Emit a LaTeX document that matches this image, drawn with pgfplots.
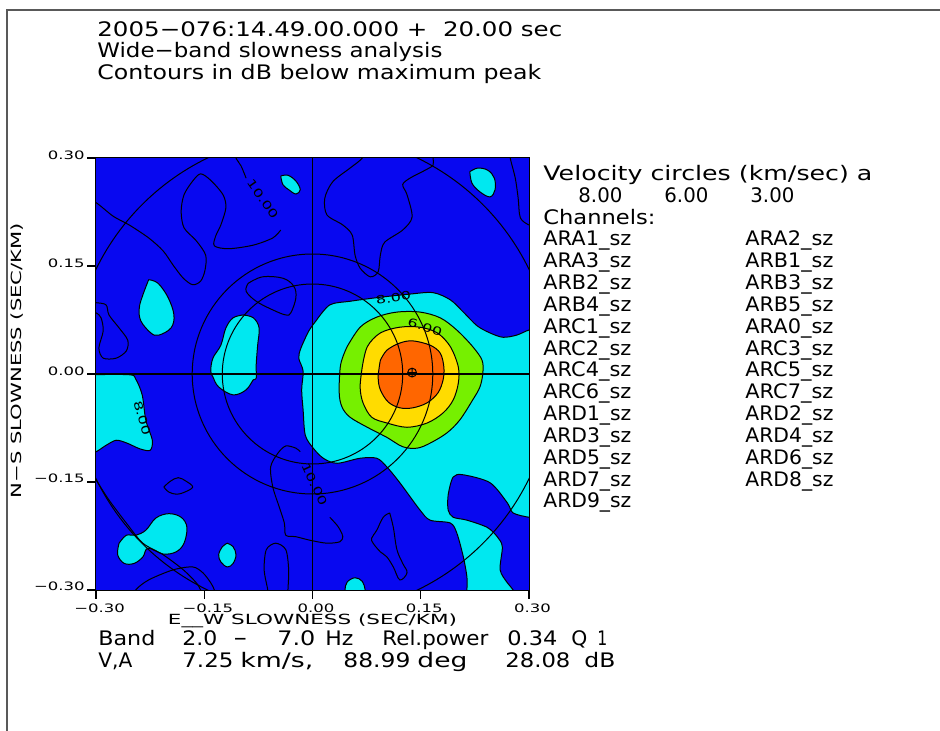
\documentclass[border=0pt]{standalone}
\usepackage{fontspec}
\setmainfont{DejaVu Sans}
\newfontfamily\tickfont[FakeStretch=1.42]{DejaVu Sans}
\usepackage{graphicx}
\usepackage{pgfplots}
\pgfplotsset{compat=1.18}
\definecolor{dblue}{RGB}{8,8,240}
\definecolor{cyanc}{RGB}{0,232,240}
\definecolor{greenc}{RGB}{118,240,0}
\definecolor{yellowc}{RGB}{255,220,0}
\definecolor{orangec}{RGB}{255,102,0}
\newcommand\T[5]{\node[anchor=base west,inner sep=0pt] at (#1,#2) {\fontsize{#3}{#3}\selectfont\resizebox{#4pt}{\height}{#5}};}
\newcommand\CL[4]{\node[rotate=#3,inner sep=0pt] at (axis cs:#1,#2) {\tickfont\fontsize{5.6}{6}\selectfont #4};}
\begin{document}
\begin{tikzpicture}
\useasboundingbox (0,0) rectangle (470pt,365.5pt);
\begin{axis}[
  at={(48pt,70.5pt)}, anchor=south west,
  scale only axis, width=216.5pt, height=216pt,
  xmin=-0.3, xmax=0.3, ymin=-0.3, ymax=0.3,
  axis line style={line width=0.7pt},
  tick pos=left, tick align=outside,
  major tick length=4.5pt,
  every tick/.style={black, line width=0.7pt},
  xtick={-0.3,-0.15,0,0.15,0.3},
  ytick={-0.3,-0.15,0,0.15,0.3},
  xticklabels={−0.30,−0.15,0.00,0.15,0.30},
  yticklabels={−0.30,−0.15,0.00,0.15,0.30},
  ticklabel style={font=\tickfont\fontsize{5.8}{6}\selectfont, inner sep=0pt},
  xticklabel style={anchor=north, yshift=-2pt, xshift=1.75pt},
  yticklabel style={anchor=base east, xshift=-1pt, yshift=-0.5pt},
  xlabel={\resizebox{144.5pt}{\height}{E\_\_W SLOWNESS (SEC/KM)}},
  ylabel={\resizebox{137.5pt}{\height}{N−S SLOWNESS (SEC/KM)}},
  label style={font=\fontsize{7}{7}\selectfont, inner sep=0pt},
  xlabel style={at={(axis description cs:0.5,-0.081)}, anchor=base},
  ylabel style={at={(axis description cs:-0.171,0.531)}, anchor=base},
  clip=true,
]
% background: below -8 dB
\addplot[fill=dblue, draw=none] coordinates {(-0.3,-0.3) (0.3,-0.3) (0.3,0.3) (-0.3,0.3) (-0.3,-0.3)};
% -8 dB regions
\addplot[fill=cyanc, draw=black, line width=0.5pt, smooth, tension=0.5] coordinates {
(0.005,0.074) (0.024,0.096) (0.052,0.101) (0.089,0.106) (0.135,0.111) (0.167,0.113) (0.191,0.103) (0.209,0.086) (0.228,0.067) (0.246,0.057) (0.264,0.051) (0.283,0.054) (0.300,0.061) (0.312,0.060) (0.312,-0.199) (0.300,-0.199) (0.278,-0.193) (0.270,-0.179) (0.246,-0.151) (0.209,-0.140) (0.195,-0.143) (0.188,-0.168) (0.188,-0.189) (0.195,-0.199) (0.214,-0.203) (0.242,-0.213) (0.256,-0.226) (0.263,-0.240) (0.260,-0.272) (0.270,-0.290) (0.278,-0.300) (0.280,-0.312) (0.214,-0.312) (0.214,-0.300) (0.214,-0.282) (0.209,-0.254) (0.200,-0.221) (0.191,-0.207) (0.163,-0.203) (0.149,-0.189) (0.121,-0.151) (0.103,-0.129) (0.089,-0.117) (0.066,-0.117) (0.034,-0.124) (0.015,-0.117) (0.001,-0.103) (-0.010,-0.085) (-0.013,-0.050) (-0.015,-0.022) (-0.013,0.004) (-0.019,0.022) (-0.016,0.036) (-0.005,0.060) (0.005,0.074)};
\addplot[fill=cyanc, draw=black, line width=0.5pt, smooth, tension=0.6] coordinates {
(0.218,0.281) (0.229,0.286) (0.243,0.283) (0.252,0.272) (0.253,0.256) (0.246,0.246) (0.232,0.253) (0.221,0.265) (0.218,0.281)};
\addplot[fill=cyanc, draw=black, line width=0.5pt, smooth, tension=0.6] coordinates {
(-0.044,0.275) (-0.034,0.276) (-0.023,0.268) (-0.017,0.256) (-0.023,0.250) (-0.033,0.256) (-0.041,0.263) (-0.044,0.275)};
\addplot[fill=cyanc, draw=black, line width=0.5pt, smooth, tension=0.6] coordinates {
(-0.227,0.131) (-0.214,0.126) (-0.200,0.106) (-0.192,0.082) (-0.196,0.064) (-0.213,0.054) (-0.224,0.057) (-0.238,0.074) (-0.240,0.092) (-0.235,0.110) (-0.227,0.131)};
\addplot[fill=cyanc, draw=black, line width=0.5pt, smooth, tension=0.6] coordinates {
(-0.096,0.082) (-0.082,0.078) (-0.074,0.064) (-0.076,0.040) (-0.078,0.013) (-0.078,-0.006) (-0.082,-0.008) (-0.092,-0.022) (-0.110,-0.029) (-0.130,-0.018) (-0.138,-0.004) (-0.141,0.004) (-0.138,0.022) (-0.127,0.040) (-0.120,0.064) (-0.110,0.078) (-0.096,0.082)};
\addplot[fill=cyanc, draw=black, line width=0.5pt, smooth, tension=0.5] coordinates {
(-0.312,-0.001) (-0.254,-0.001) (-0.245,-0.007) (-0.236,-0.029) (-0.231,-0.064) (-0.222,-0.092) (-0.225,-0.106) (-0.239,-0.104) (-0.257,-0.096) (-0.272,-0.092) (-0.286,-0.099) (-0.300,-0.108) (-0.312,-0.110) (-0.312,-0.001)};
\addplot[fill=cyanc, draw=black, line width=0.5pt, smooth, tension=0.6] coordinates {
(-0.268,-0.235) (-0.258,-0.224) (-0.245,-0.224) (-0.231,-0.217) (-0.217,-0.200) (-0.199,-0.194) (-0.182,-0.199) (-0.174,-0.213) (-0.178,-0.235) (-0.189,-0.247) (-0.207,-0.250) (-0.228,-0.242) (-0.235,-0.254) (-0.247,-0.263) (-0.261,-0.263) (-0.270,-0.251) (-0.268,-0.235)};
\addplot[fill=cyanc, draw=black, line width=0.5pt, smooth, tension=0.6] coordinates {
(-0.118,-0.235) (-0.110,-0.240) (-0.106,-0.251) (-0.110,-0.263) (-0.118,-0.268) (-0.127,-0.261) (-0.130,-0.251) (-0.125,-0.240) (-0.118,-0.235)};
\addplot[fill=cyanc, draw=black, line width=0.5pt, smooth, tension=0.6] coordinates {
(0.045,-0.312) (0.045,-0.300) (0.048,-0.289) (0.059,-0.283) (0.069,-0.288) (0.073,-0.300) (0.073,-0.312)};
% -6 dB
\addplot[fill=greenc, draw=black, line width=0.5pt, smooth, tension=0.55] coordinates {
(0.048,0.038) (0.066,0.065) (0.089,0.079) (0.117,0.086) (0.149,0.086) (0.177,0.078) (0.200,0.061) (0.222,0.038) (0.235,0.019) (0.236,0.001) (0.232,-0.018) (0.222,-0.036) (0.204,-0.064) (0.186,-0.082) (0.163,-0.096) (0.145,-0.103) (0.125,-0.101) (0.103,-0.088) (0.076,-0.074) (0.052,-0.060) (0.041,-0.046) (0.037,-0.026) (0.039,0.013) (0.048,0.038)};
% -4 dB
\addplot[fill=yellowc, draw=black, line width=0.5pt, smooth, tension=0.55] coordinates {
(0.069,0.010) (0.076,0.038) (0.094,0.057) (0.121,0.065) (0.149,0.065) (0.173,0.057) (0.191,0.038) (0.202,0.010) (0.202,-0.013) (0.195,-0.036) (0.181,-0.054) (0.159,-0.068) (0.131,-0.074) (0.103,-0.068) (0.082,-0.060) (0.070,-0.040) (0.066,-0.018) (0.069,0.010)};
% -2 dB
\addplot[fill=orangec, draw=black, line width=0.5pt, smooth, tension=0.55] coordinates {
(0.094,0.019) (0.103,0.033) (0.121,0.043) (0.139,0.046) (0.163,0.040) (0.177,0.029) (0.182,0.010) (0.181,-0.008) (0.174,-0.026) (0.159,-0.040) (0.139,-0.047) (0.121,-0.047) (0.105,-0.039) (0.094,-0.022) (0.091,-0.004) (0.094,0.019)};
% -10 dB contour lines
\addplot[black, line width=0.5pt, smooth, tension=0.5] coordinates {
(-0.312,0.240) (-0.300,0.238) (-0.276,0.219) (-0.254,0.207) (-0.227,0.189) (-0.207,0.171) (-0.193,0.151) (-0.179,0.133) (-0.166,0.124) (-0.155,0.129) (-0.149,0.144) (-0.148,0.165) (-0.161,0.185) (-0.178,0.203) (-0.182,0.226) (-0.178,0.249) (-0.166,0.268) (-0.155,0.278) (-0.141,0.269) (-0.124,0.249) (-0.120,0.231) (-0.127,0.207) (-0.134,0.192) (-0.136,0.178) (-0.116,0.174) (-0.082,0.179) (-0.055,0.189) (-0.044,0.200)};
\addplot[black, line width=0.5pt, smooth, tension=0.5] coordinates {
(-0.092,0.272) (-0.099,0.289) (-0.106,0.300) (-0.108,0.312)};
\addplot[black, line width=0.5pt, smooth, tension=0.5] coordinates {
(0.069,0.312) (0.069,0.300) (0.052,0.286) (0.028,0.267) (0.017,0.244) (0.020,0.221) (0.042,0.207) (0.055,0.193) (0.059,0.165) (0.066,0.147) (0.080,0.135) (0.091,0.142) (0.094,0.165) (0.100,0.183) (0.125,0.200) (0.138,0.218) (0.131,0.249) (0.125,0.263) (0.135,0.272) (0.156,0.283) (0.167,0.290) (0.167,0.300) (0.167,0.312)};
\addplot[black, line width=0.5pt, smooth, tension=0.5] coordinates {
(0.274,0.312) (0.274,0.300) (0.281,0.272) (0.285,0.244) (0.288,0.217) (0.300,0.207) (0.312,0.205)};
\addplot[black, line width=0.5pt, smooth, tension=0.6] coordinates {
(-0.089,0.126) (-0.069,0.135) (-0.041,0.133) (-0.026,0.122) (-0.023,0.106) (-0.030,0.085) (-0.037,0.082) (-0.055,0.089) (-0.078,0.101) (-0.092,0.115) (-0.089,0.126)};
\addplot[black, line width=0.5pt, smooth, tension=0.5] coordinates {
(-0.312,0.099) (-0.300,0.099) (-0.286,0.096) (-0.282,0.082) (-0.268,0.064) (-0.256,0.047) (-0.258,0.032) (-0.272,0.022) (-0.290,0.022) (-0.296,0.036) (-0.290,0.060) (-0.293,0.078) (-0.300,0.085) (-0.312,0.086)};
\addplot[black, line width=0.5pt, smooth, tension=0.6] coordinates {
(-0.206,-0.157) (-0.197,-0.149) (-0.186,-0.144) (-0.175,-0.149) (-0.166,-0.157) (-0.177,-0.164) (-0.188,-0.167) (-0.199,-0.164) (-0.206,-0.157)};
\addplot[black, line width=0.5pt, smooth, tension=0.5] coordinates {
(-0.312,-0.128) (-0.300,-0.147) (-0.282,-0.175) (-0.258,-0.207) (-0.235,-0.235) (-0.207,-0.251) (-0.179,-0.272) (-0.161,-0.290) (-0.155,-0.300) (-0.150,-0.312)};
\addplot[black, line width=0.5pt, smooth, tension=0.5] coordinates {
(-0.247,-0.312) (-0.245,-0.300) (-0.227,-0.286) (-0.193,-0.272) (-0.166,-0.268) (-0.152,-0.276) (-0.141,-0.290) (-0.136,-0.300) (-0.135,-0.312)};
\addplot[black, line width=0.5pt, smooth, tension=0.5] coordinates {
(-0.062,-0.312) (-0.062,-0.300) (-0.067,-0.272) (-0.064,-0.244) (-0.051,-0.235) (-0.037,-0.244) (-0.033,-0.272) (-0.034,-0.300) (-0.034,-0.312)};
\addplot[black, line width=0.5pt, smooth, tension=0.5] coordinates {
(0.024,-0.199) (0.034,-0.210) (0.039,-0.218) (0.042,-0.226) (0.038,-0.233) (0.020,-0.235) (-0.003,-0.231) (-0.023,-0.226) (-0.037,-0.224) (-0.039,-0.207) (-0.046,-0.185) (-0.055,-0.157) (-0.058,-0.129) (-0.048,-0.110) (-0.037,-0.100) (-0.023,-0.103) (-0.017,-0.108)};
\addplot[black, line width=0.5pt, smooth, tension=0.6] coordinates {
(0.107,-0.193) (0.112,-0.213) (0.117,-0.244) (0.125,-0.263) (0.131,-0.276) (0.121,-0.286) (0.112,-0.268) (0.103,-0.254) (0.094,-0.247) (0.084,-0.235) (0.082,-0.228) (0.089,-0.217) (0.098,-0.199) (0.107,-0.193)};
% velocity circles (8, 6, 3 km/s) centred on the origin
\draw[black, line width=0.5pt] (axis cs:0,0) circle [radius=0.125];
\draw[black, line width=0.5pt] (axis cs:0,0) circle [radius=0.16667];
\draw[black, line width=0.5pt] (axis cs:0,0) circle [radius=0.33333];
% cross-hair
\addplot[black, line width=0.6pt] coordinates {(-0.3,0.0) (0.3,0.0)};
\addplot[black, line width=0.5pt] coordinates {(0.0,-0.3) (0.0,0.3)};
% peak
\addplot[only marks, mark=oplus, mark size=2.2pt, black, mark options={line width=0.5pt}] coordinates {(0.138,0.002)};
% contour labels
\CL{-0.069}{0.243}{-55}{10.00}
\CL{0.003}{-0.153}{-65}{10.00}
\CL{0.112}{0.106}{10}{8.00}
\CL{0.156}{0.065}{-17}{6.00}
\CL{-0.236}{-0.061}{-74}{8.00}
\end{axis}
\begin{scope}[x=0.5pt,y=-0.5pt,yshift=365.5pt]
\draw[black!65, line width=0.7pt] (940,10) -- (7,10) -- (7,731);
\T{97}{36.5}{10}{232.5}{2005−076:14.49.00.000 +\ \ 20.00 sec}
\T{97}{58}{10}{172.5}{Wide−band slowness analysis}
\T{97}{80}{10}{222}{Contours in dB below maximum peak}
\T{543}{180.5}{10}{164.5}{Velocity circles (km/sec) a}
\T{578}{202.3}{10}{22}{8.00}
\T{664}{202.3}{10}{22}{6.00}
\T{750}{202.3}{10}{22}{3.00}
\T{543}{224.2}{10}{56}{Channels:}
\T{543}{246.0}{10}{44}{ARA1\_sz}\T{745}{246.0}{10}{44}{ARA2\_sz}
\T{543}{267.8}{10}{44}{ARA3\_sz}\T{745}{267.8}{10}{44}{ARB1\_sz}
\T{543}{289.7}{10}{44}{ARB2\_sz}\T{745}{289.7}{10}{44}{ARB3\_sz}
\T{543}{311.5}{10}{44}{ARB4\_sz}\T{745}{311.5}{10}{44}{ARB5\_sz}
\T{543}{333.3}{10}{44}{ARC1\_sz}\T{745}{333.3}{10}{44}{ARA0\_sz}
\T{543}{355.2}{10}{44}{ARC2\_sz}\T{745}{355.2}{10}{44}{ARC3\_sz}
\T{543}{377.0}{10}{44}{ARC4\_sz}\T{745}{377.0}{10}{44}{ARC5\_sz}
\T{543}{398.8}{10}{44}{ARC6\_sz}\T{745}{398.8}{10}{44}{ARC7\_sz}
\T{543}{420.6}{10}{44}{ARD1\_sz}\T{745}{420.6}{10}{44}{ARD2\_sz}
\T{543}{442.5}{10}{44}{ARD3\_sz}\T{745}{442.5}{10}{44}{ARD4\_sz}
\T{543}{464.3}{10}{44}{ARD5\_sz}\T{745}{464.3}{10}{44}{ARD6\_sz}
\T{543}{486.1}{10}{44}{ARD7\_sz}\T{745}{486.1}{10}{44}{ARD8\_sz}
\T{543}{508.0}{10}{44}{ARD9\_sz}
\T{98}{645.5}{10}{28.5}{Band}
\T{182}{645.5}{10}{17.5}{2.0}
\T{233}{645.5}{10}{7}{−}
\T{277}{645.5}{10}{19}{7.0}
\T{325}{645.5}{10}{14}{Hz}
\T{382}{645.5}{10}{53}{Rel.power}
\T{507}{645.5}{10}{25}{0.34}
\T{571}{645.5}{10}{8}{Q}
\T{597}{645.5}{10}{5}{1}
\T{98}{667.5}{10}{17}{V,A}
\T{182}{667.5}{10}{25.5}{7.25}
\T{240}{667.5}{10}{36.5}{km/s,}
\T{343}{667.5}{10}{33.5}{88.99}
\T{417}{667.5}{10}{25}{deg}
\T{505}{667.5}{10}{32.5}{28.08}
\T{584}{667.5}{10}{15.5}{dB}
\end{scope}
\end{tikzpicture}
\end{document}
